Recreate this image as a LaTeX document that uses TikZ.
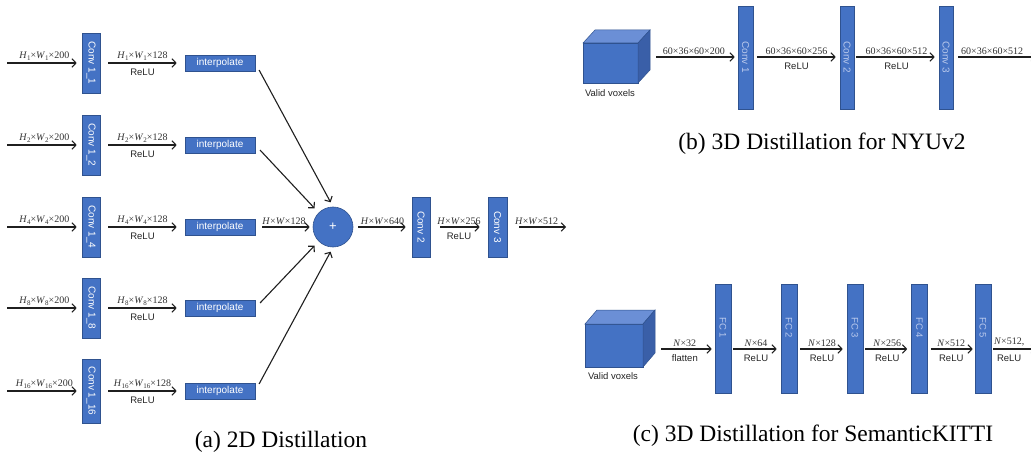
\documentclass[tikz,border=0pt]{standalone}
\usepackage{fontspec}
\usepackage{graphicx}
\setmainfont{Liberation Serif}
\setsansfont{Liberation Sans}
\usetikzlibrary{arrows.meta}
\definecolor{boxblue}{HTML}{4472C4}
\definecolor{boxedge}{HTML}{2F528F}
\definecolor{cubetop}{HTML}{6B8FD6}
\definecolor{cubeside}{HTML}{3A5FA8}
\definecolor{fainttext}{HTML}{B8C8EC}
\newcommand{\lsub}[1]{\raisebox{-0.35ex}{\fontsize{7}{8}\selectfont #1}}
\newcommand{\hwc}[2]{\textit{H}\lsub{#1}×\textit{W}\lsub{#1}×#2}
\tikzset{
  arr/.style={draw=black!88, line width=1.1pt, -{Straight Barb[length=4pt,width=8.5pt,line width=1.1pt]}},
  lab/.style={font=\fontsize{10}{11}\selectfont, text=black!80, inner sep=2pt},
  sanslab/.style={font=\sffamily\fontsize{9.5}{10}\selectfont, text=black!85, inner sep=3pt},
  relu/.style={sanslab, inner sep=5pt},
  blockbox/.style={draw=boxedge, fill=boxblue, line width=0.6pt, inner sep=0pt, text=white, font=\sffamily\fontsize{10}{11}\selectfont},
  interp/.style={blockbox, minimum width=70pt, minimum height=16pt},
  capt/.style={font=\fontsize{23.5}{26}\selectfont, text=black}
}
\begin{document}
\begin{tikzpicture}[x=1pt,y=-1pt]
\clip (0,0) rectangle (1031,457);
\fill[white] (0,0) rectangle (1031,457);
% ---------------- (a) ----------------
\foreach \i/\y/\h/\s in {1/63/60/1, 2/145/60/2, 3/227/60/4, 4/308/60/8, 5/391/64/16}{
  \node[blockbox, minimum width=18pt, minimum height=\h pt] (c\i) at (91,\y) {\rotatebox{-90}{Conv 1\_\s}};
  \node[interp] (ip\i) at (220,\y) {interpolate};
  \coordinate (in\i) at (7,\y);
  \draw[arr, shorten >=5pt] (in\i) -- (in\i -| c\i.west)
     node[lab, midway, above] {\hwc{\s}{200}};
  \draw[arr, shorten <=8pt, shorten >=8pt] (c\i) -- (ip\i)
     node[lab, midway, above] {\hwc{\s}{128}}
     node[relu, midway, below] {ReLU};
}
\node[circle, draw=boxedge, fill=boxblue, line width=0.6pt, minimum size=40pt, inner sep=0pt, text=white, font=\sffamily\fontsize{13}{14}\selectfont] (plus) at (333,227) {+};
\draw[arr, shorten <=8pt, shorten >=5pt] (ip1.east) -- (plus.north);
\draw[arr, shorten <=7pt, shorten >=6pt] (ip2.east) -- (plus.north west);
\draw[arr, shorten <=7pt, shorten >=3pt] (ip3) -- (plus)
   node[lab, midway, above] {\textit{H}×\textit{W}×128};
\draw[arr, shorten <=7pt, shorten >=6pt] (ip4.east) -- (plus.south west);
\draw[arr, shorten <=8pt, shorten >=5pt] (ip5.east) -- (plus.south);
\node[blockbox, minimum width=18pt, minimum height=60pt] (c2) at (421,227) {\rotatebox{-90}{Conv 2}};
\node[blockbox, minimum width=19pt, minimum height=60pt] (c3) at (497.5,227) {\rotatebox{-90}{Conv 3}};
\coordinate (outa) at (566,227);
\draw[arr, shorten <=5pt, shorten >=6pt] (plus) -- (c2)
   node[lab, midway, above] {\textit{H}×\textit{W}×640};
\draw[arr, shorten <=10pt, shorten >=8pt] (c2) -- (c3)
   node[lab, midway, above] {\textit{H}×\textit{W}×256}
   node[relu, midway, below] {ReLU};
\draw[arr, shorten <=12pt] (c3) -- (outa)
   node[lab, midway, above] {\textit{H}×\textit{W}×512};
\node[capt] (capa) at (281,442) {(a) 2D Distillation};
% ---------------- (b) ----------------
\fill[boxblue, draw=boxedge, line width=0.5pt] (583,43) rectangle (638,83);
\fill[cubetop, draw=boxedge, line width=0.5pt] (583,43) -- (595,30) -- (650,30) -- (638,43) -- cycle;
\fill[cubeside, draw=boxedge, line width=0.5pt] (638,43) -- (650,30) -- (650,70) -- (638,83) -- cycle;
\coordinate (cubeb) at (650,57);
\node[sanslab, inner sep=0pt] (vvb) at (610,93) {Valid voxels};
\node[blockbox, minimum width=15pt, minimum height=103pt, text=fainttext] (b1) at (745.5,57.5) {\rotatebox{-90}{Conv 1}};
\node[blockbox, minimum width=14pt, minimum height=103pt, text=fainttext] (b2) at (847,57.5) {\rotatebox{-90}{Conv 2}};
\node[blockbox, minimum width=14pt, minimum height=103pt, text=fainttext] (b3) at (946,57.5) {\rotatebox{-90}{Conv 3}};
\coordinate (outb) at (1036,57);
\draw[arr, shorten <=6pt, shorten >=3pt] (cubeb) -- (cubeb -| b1.west)
   node[lab, midway, above] {60×36×60×200};
\draw[arr, shorten <=4pt, shorten >=4pt] (b1.east |- cubeb) -- (b2.west |- cubeb)
   node[lab, midway, above] {60×36×60×256}
   node[relu, midway, below] {ReLU};
\draw[arr, shorten <=2pt, shorten >=4pt] (b2.east |- cubeb) -- (b3.west |- cubeb)
   node[lab, midway, above] {60×36×60×512}
   node[relu, midway, below] {ReLU};
\draw[arr, shorten <=5pt] (b3.east |- cubeb) -- (outb)
   node[lab, pos=0.47, above] {60×36×60×512};
\node[capt] (capb) at (822,144) {(b) 3D Distillation for NYUv2};
% ---------------- (c) ----------------
\fill[boxblue, draw=boxedge, line width=0.5pt] (585,324) rectangle (643,367);
\fill[cubetop, draw=boxedge, line width=0.5pt] (585,324) -- (597,310) -- (655,310) -- (643,324) -- cycle;
\fill[cubeside, draw=boxedge, line width=0.5pt] (643,324) -- (655,310) -- (655,353) -- (643,367) -- cycle;
\coordinate (cubec) at (655,349);
\node[sanslab, inner sep=0pt] (vvc) at (613,376) {Valid voxels};
\foreach \k/\x in {1/723, 2/789, 3/855, 4/919.5, 5/983}{
  \node[blockbox, minimum width=16pt, minimum height=109pt] (f\k) at (\x,338.5) {};
  \node[text=fainttext, font=\sffamily\fontsize{9.5}{10}\selectfont, inner sep=0pt] (ft\k) at ([yshift=11pt]f\k.center) {\rotatebox{-90}{FC \k}};
}
\coordinate (outc) at (1036,349);
\draw[arr, shorten <=6pt, shorten >=3pt] (cubec) -- (cubec -| f1.west)
   node[lab, midway, above] {\textit{N}×32}
   node[relu, midway, below] {flatten};
\draw[arr, shorten <=2pt, shorten >=4pt] (f1.east |- cubec) -- (f2.west |- cubec)
   node[lab, midway, above] {\textit{N}×64}
   node[relu, midway, below] {ReLU};
\draw[arr, shorten <=3pt, shorten >=4pt] (f2.east |- cubec) -- (f3.west |- cubec)
   node[lab, midway, above] {\textit{N}×128}
   node[relu, midway, below] {ReLU};
\draw[arr, shorten <=2pt, shorten >=4pt] (f3.east |- cubec) -- (f4.west |- cubec)
   node[lab, midway, above] {\textit{N}×256}
   node[relu, midway, below] {ReLU};
\draw[arr, shorten <=3pt, shorten >=2pt] (f4.east |- cubec) -- (f5.west |- cubec)
   node[lab, midway, above] {\textit{N}×512}
   node[relu, midway, below] {ReLU};
\draw[arr, shorten <=2pt] (f5.east |- cubec) -- (outc)
   node[lab, pos=0.4, above] {\textit{N}×512,}
   node[relu, pos=0.4, below] {ReLU};
\node[capt] (capc) at (813,436) {(c) 3D Distillation for SemanticKITTI};
\end{tikzpicture}
\end{document}
